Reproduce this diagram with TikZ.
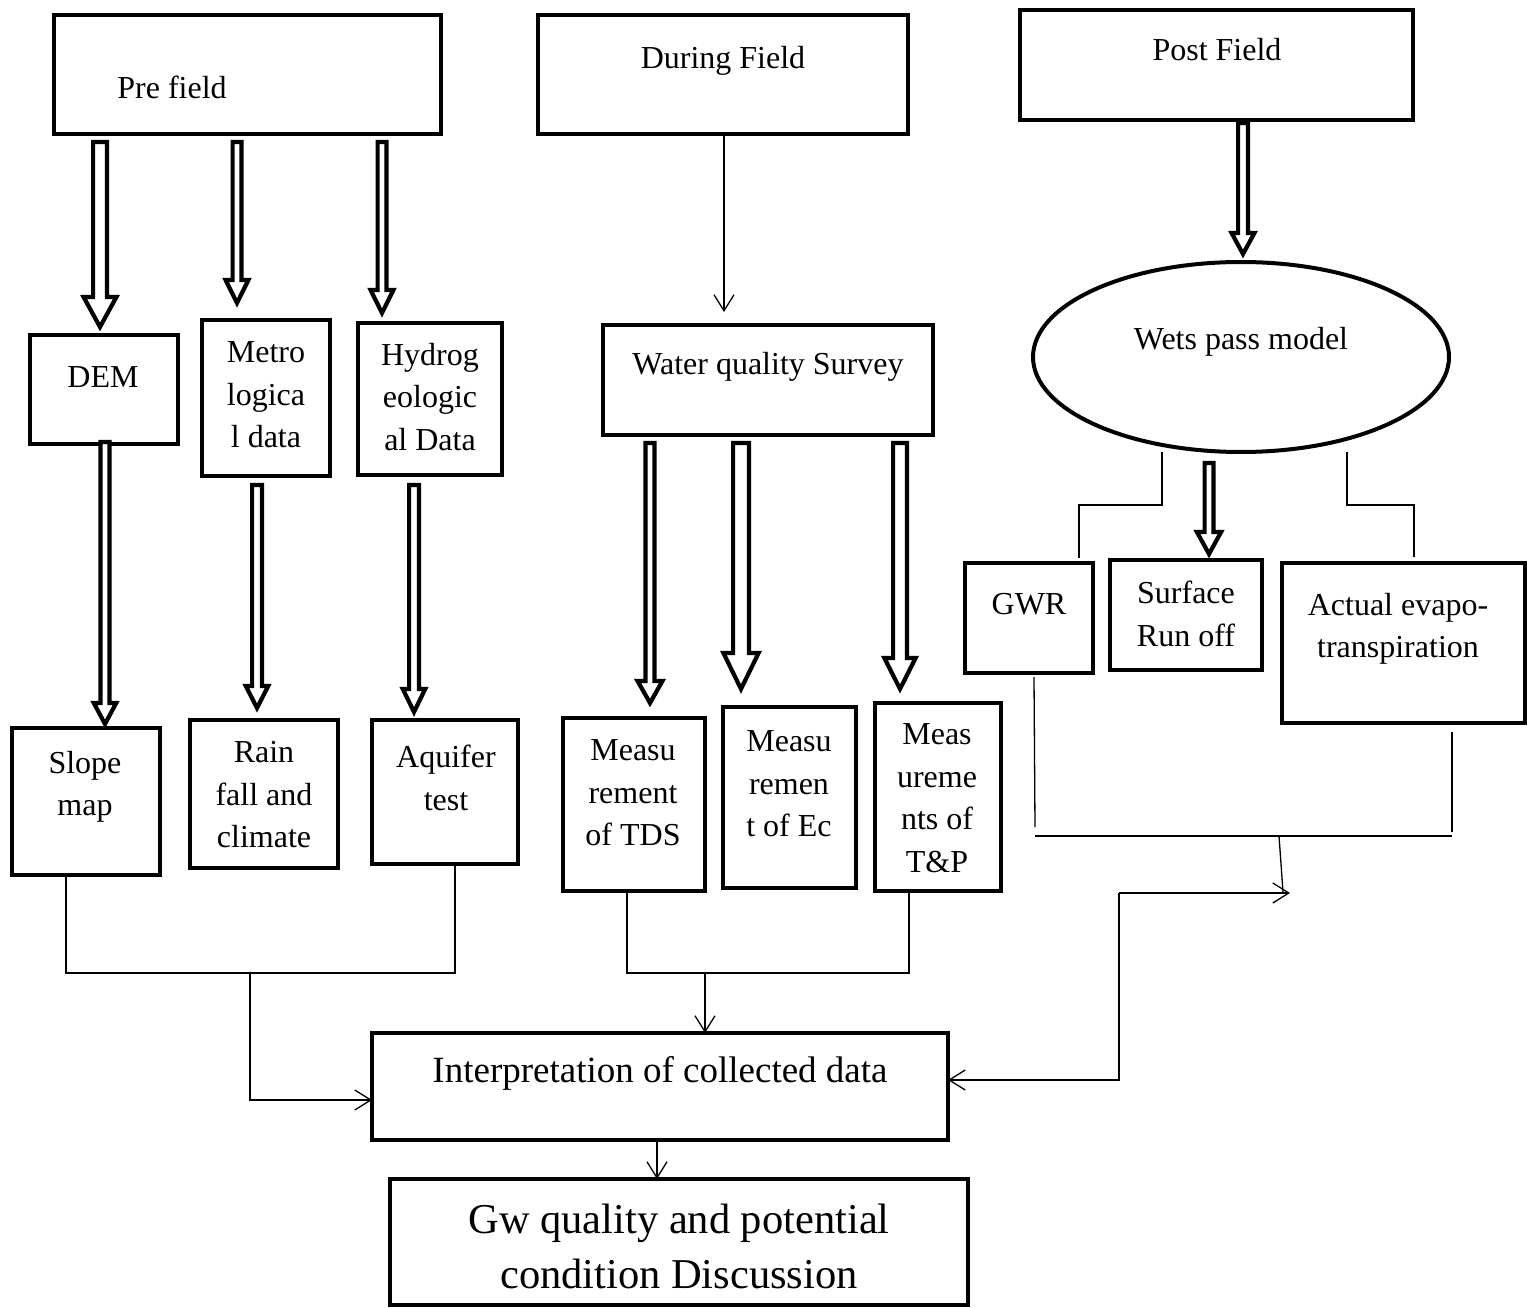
\documentclass[tikz,border=0pt]{standalone}
\usepackage{fontspec}
\setmainfont{Liberation Serif}
\usetikzlibrary{shapes.geometric,arrows.meta,calc}
\begin{document}
\begin{tikzpicture}[x=1pt,y=-1pt,
  box/.style={draw, line width=4pt, rectangle, inner sep=0pt, outer sep=0pt},
  txt/.style={font=\fontsize{32}{42.5}\selectfont, align=center, inner sep=0pt},
  conn/.style={draw, line width=1.3pt},
  arr/.style={-{Straight Barb[length=16pt,width=20pt]}},
  blk/.style n args={3}{draw, line width=4.2pt, fill=white, line join=miter,
    to path={let \p1=(\tikztostart), \p2=(\tikztotarget) in
      (\x1-#1pt,\y1) -- (\x1-#1pt,\y2+#3pt) -- (\x1-#2pt,\y2+#3pt) -- (\x1,\y2)
      -- (\x1+#2pt,\y2+#3pt) -- (\x1+#1pt,\y2+#3pt) -- (\x1+#1pt,\y1) -- cycle}}
]
\useasboundingbox (0,0) rectangle (1527,1308);

% ---------- boxes ----------
\node[box, minimum width=387pt, minimum height=119pt] (pre) at (247.5,74.5) {};
\node[box, minimum width=370pt, minimum height=119pt] (during) at (723,74.5) {};
\node[box, minimum width=393pt, minimum height=110pt] (post) at (1216.5,65) {};
\node[draw, line width=4pt, ellipse, inner sep=0pt, outer sep=0pt,
      minimum width=416pt, minimum height=190pt] (ell) at (1241,357) {};
\node[box, minimum width=148pt, minimum height=109pt] (dem) at (104,389.5) {};
\node[box, minimum width=128pt, minimum height=156pt] (metro) at (266,398) {};
\node[box, minimum width=144pt, minimum height=152pt] (hydro) at (430,399) {};
\node[box, minimum width=148pt, minimum height=147pt] (slope) at (86,801.5) {};
\node[box, minimum width=148pt, minimum height=148pt] (rain) at (264,794) {};
\node[box, minimum width=146pt, minimum height=144pt] (aquifer) at (445,792) {};
\node[box, minimum width=330pt, minimum height=110pt] (wqs) at (768,380) {};
\node[box, minimum width=142pt, minimum height=173pt] (tds) at (634,804.5) {};
\node[box, minimum width=133pt, minimum height=181pt] (ec) at (789.5,797.5) {};
\node[box, minimum width=126pt, minimum height=188pt] (tp) at (938,797) {};
\node[box, minimum width=128pt, minimum height=110pt] (gwr) at (1029,618) {};
\node[box, minimum width=152pt, minimum height=110pt] (surf) at (1186,615) {};
\node[box, minimum width=243pt, minimum height=160pt] (aet) at (1403.5,643) {};
\node[box, minimum width=576pt, minimum height=107pt] (interp) at (660,1086.5) {};
\node[box, minimum width=578pt, minimum height=126pt] (gw) at (679,1242) {};

% ---------- texts ----------
\node[txt] (tpre) at (172,87) {Pre field};
\node[txt] (tduring) at (723,61) {During Field};
\node[txt] (tpost) at (1217,50) {Post Field};
\node[txt] (tell) at (1241,342) {Wets pass model};
\node[txt] (tdem) at (103,377) {DEM};
\node[txt] (tmetro) at (266,395) {Metro\\logica\\l data};
\node[txt] (thydro) at (430,397) {Hydrog\\eologic\\al Data};
\node[txt] (tslope) at (85,787) {Slope\\map};
\node[txt] (train) at (264,795) {Rain\\fall and\\climate};
\node[txt] (taq) at (446,778) {Aquifer\\test};
\node[txt] (twqs) at (768,367) {Water quality Survey};
\node[txt] (ttds) at (633,793) {Measu\\rement\\of TDS};
\node[txt] (tec) at (789,784) {Measu\\remen\\t of Ec};
\node[txt] (ttp) at (937,798) {Meas\\ureme\\nts of\\T\&P};
\node[txt] (tgwr) at (1029,604) {GWR};
\node[txt] (tsurf) at (1186,614) {Surface\\Run off};
\node[txt] (taet) at (1398,629) {Actual evapo-\\transpiration};
\node[txt, font=\fontsize{37}{48}\selectfont] (tinterp) at (660,1073) {Interpretation of collected data};
\node[txt, font=\fontsize{42.5}{55}\selectfont] (tgw) at (679,1246) {Gw quality and potential\\condition Discussion};

% ---------- block arrows ----------
\coordinate (a1) at (100,142);
\coordinate (a2) at (237,142);
\coordinate (a3) at (382,142);
\coordinate (a4) at (105,442);
\coordinate (a5) at (257,485);
\coordinate (a6) at (414,485);
\coordinate (a7) at (650,443);
\coordinate (a8) at (741,443);
\coordinate (a9) at (900,443);
\coordinate (a10) at (1243,123);
\coordinate (a11) at (1209,463);
\draw[blk={6.9}{16.4}{30}] (a1) to ($(a1 |- dem.north)+(0,-8)$);
\draw[blk={4.4}{11.4}{23}] (a2) to ($(a2 |- metro.north)+(0,-17)$);
\draw[blk={4.4}{11.4}{23}] (a3) to ($(a3 |- hydro.north)+(0,-10)$);
\draw[blk={4.5}{11.2}{21}] (a4) to ($(a4 |- slope.north)+(0,-4)$);
\draw[blk={4.9}{11.2}{22}] (a5) to ($(a5 |- rain.north)+(0,-12)$);
\draw[blk={4.9}{11.2}{23}] (a6) to ($(a6 |- aquifer.north)+(0,-8)$);
\draw[blk={4.5}{12.4}{22}] (a7) to ($(a7 |- tds.north)+(0,-15)$);
\draw[blk={7.9}{17.6}{36}] (a8) to ($(a8 |- ec.north)+(0,-18)$);
\draw[blk={6.9}{15.6}{31}] (a9) to ($(a9 |- tp.north)+(0,-14)$);
\draw[blk={4.9}{11.4}{21}] (a10) to ($(a10 |- ell.north)+(0,-8)$);
\draw[blk={4.4}{12.1}{22}] (a11) to ($(a11 |- surf.north)+(0,-6)$);

% ---------- thin connectors ----------
\coordinate (dx) at (724,0);
\draw[conn,arr] (during.south -| dx) -- ($(dx |- wqs.north)+(0,-13)$);

\coordinate (xs) at (66,0);
\coordinate (xa) at (455,0);
\coordinate (pj) at (250,973);
\coordinate (li) at (250,1100);
\draw[conn] (slope.south -| xs) |- (pj) -| (aquifer.south -| xa);
\draw[conn,arr] (pj) -- (li) -- (li -| interp.west);

\coordinate (xt) at (627,0);
\coordinate (xp) at (909,0);
\coordinate (mj) at (705,973);
\draw[conn] (tds.south -| xt) |- (mj) -| (tp.south -| xp);
\draw[conn,arr] (mj) -- (mj |- interp.north);

\coordinate (ig) at (657,0);
\draw[conn,arr] (interp.south -| ig) -- (ig |- gw.north);

\coordinate (e1) at (1162,452);
\coordinate (g1) at (1079,505);
\coordinate (e2) at (1347,452);
\coordinate (g2) at (1414,505);
\draw[conn] (e1) |- (g1) -- ($(g1 |- gwr.north)+(0,-5)$);
\draw[conn] (e2) |- (g2) -- ($(g2 |- aet.north)+(0,-6)$);

\coordinate (h1) at (1035,836);
\coordinate (h2) at (1452,836);
\coordinate (h3) at (1279,836);
\coordinate (rk) at (1119,893);
\coordinate (rt) at (1290,893);
\coordinate (ri) at (1119,1080);
\draw[conn] (gwr.south -| h1) ++(-1,4) -- ++(1,150);
\draw[conn] (aet.south -| h2) ++(0,9) -- ++(0,100);
\draw[conn] (h1) -- (h2);
\draw[conn] (h3) -- ($(rt)+(-7,-1)$);
\draw[conn,arr] (rk) -- (rt);
\draw[conn,arr] (rk) -- (ri) -- (ri -| interp.east);
\end{tikzpicture}
\end{document}
